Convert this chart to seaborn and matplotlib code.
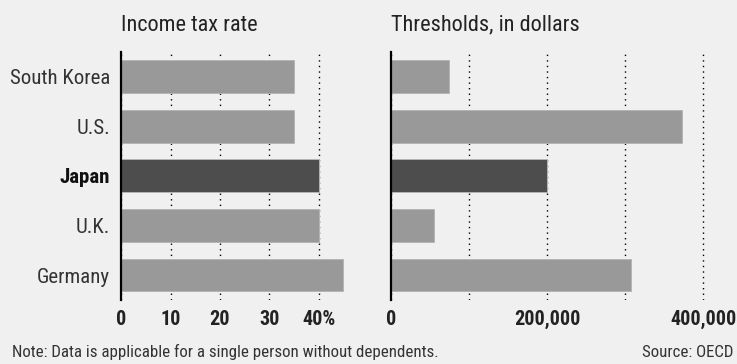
import matplotlib
matplotlib.use('Agg')
import matplotlib.pyplot as plt
import pandas as pd
import seaborn as sns

# data
countries = ['South Korea', 'U.S.', 'Japan', 'U.K.', 'Germany']
tax_rate = [35, 35, 40, 40, 45]
thresholds = [74000, 373000, 200000, 55000, 307000]
highlight = 'Japan'

df = pd.DataFrame({'country': countries, 'rate': tax_rate,
                   'threshold': thresholds})

sns.set_theme(style='white')
plt.rcParams['font.family'] = ['Roboto Condensed', 'DejaVu Sans']

bg = '#f0f0f0'
palette = {c: ('#4d4d4d' if c == highlight else '#999999') for c in countries}

fig = plt.figure(figsize=(7.37, 3.64), dpi=100, facecolor=bg)
ax1 = fig.add_axes([0.1646, 0.176, 0.3077, 0.682])
ax2 = fig.add_axes([0.531, 0.176, 0.434, 0.682])

panels = [
    (ax1, 'rate', 'Income tax rate', (0, 46), [0, 10, 20, 30, 40],
     ['0', '10', '20', '30', '40%']),
    (ax2, 'threshold', 'Thresholds, in dollars', (0, 410000),
     [0, 100000, 200000, 300000, 400000],
     ['0', '', '200,000', '', '400,000']),
]

for ax, col, title, xlim, ticks, labels in panels:
    ax.set_facecolor(bg)
    sns.barplot(data=df, x=col, y='country', hue='country', palette=palette,
                order=countries, legend=False, width=0.66, saturation=1,
                edgecolor='#b5b5b5', linewidth=0.7, ax=ax)
    ax.set_xlim(*xlim)
    ax.set_ylim(4.5, -0.5)
    ax.set_xticks(ticks)
    ax.set_xticklabels(labels, fontsize=14.5, fontweight='bold', color='#222222')
    ax.grid(axis='x', linestyle=(0, (1, 3)), color='black', linewidth=1)
    ax.grid(axis='y', visible=False)
    ax.set_axisbelow(True)
    for side in ['top', 'right', 'bottom']:
        ax.spines[side].set_visible(False)
    ax.spines['left'].set_color('black')
    ax.spines['left'].set_linewidth(1.6)
    ax.tick_params(axis='both', length=0)
    ax.tick_params(axis='x', pad=7)
    ax.set_xlabel('')
    ax.set_ylabel('')
    ax.set_title(title, loc='left', fontsize=16, color='#222222', pad=15)

ax1.tick_params(axis='y', pad=8)
for lbl in ax1.get_yticklabels():
    lbl.set_fontsize(15)
    lbl.set_color('#333333')
    if lbl.get_text() == highlight:
        lbl.set_fontweight('bold')
        lbl.set_color('#111111')
ax2.set_yticklabels([])

fig.text(0.016, 0.02, 'Note: Data is applicable for a single person without dependents.',
         fontsize=12.2, color='#333333')
fig.text(0.995, 0.02, 'Source: OECD', fontsize=12.2, color='#333333', ha='right')

fig.savefig('out.png', dpi=100, facecolor=bg)
